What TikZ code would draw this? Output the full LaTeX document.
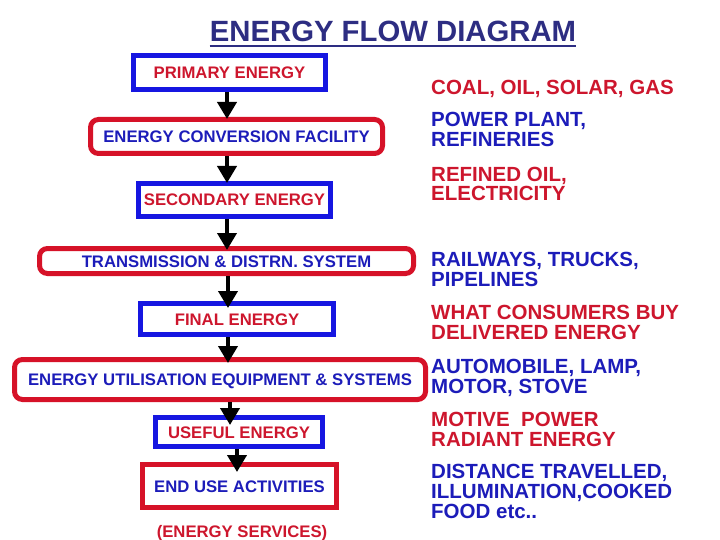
\documentclass[tikz,border=0pt]{standalone}
\usepackage{fontspec}
\setmainfont{Liberation Sans}
\usetikzlibrary{arrows.meta}
\definecolor{bred}{RGB}{214,18,40}
\definecolor{bblue}{RGB}{22,22,225}
\definecolor{tred}{RGB}{205,22,45}
\definecolor{tblue}{RGB}{28,28,185}
\definecolor{navy}{RGB}{45,45,130}
\tikzset{
  bx/.style={draw, line width=5pt, inner sep=0pt, text height=12pt, text depth=0pt,
    font=\fontsize{16.7}{18}\selectfont\bfseries},
  bluebox/.style={bx, draw=bblue, text=tred},
  redbox/.style={bx, draw=bred, text=tblue, rounded corners=8pt},
  redsq/.style={bx, draw=bred, text=tblue},
  side/.style={anchor=base west, inner sep=0pt, align=left,
    font=\fontsize{20.5}{20}\selectfont\bfseries},
  arr/.style={line width=4pt, -{Triangle[width=19pt,length=17pt]}}
}
\begin{document}
\begin{tikzpicture}[x=1pt,y=-1pt]
\useasboundingbox (0,0) rectangle (720,540);
% title
\node[anchor=base, inner sep=0pt, text=navy, font=\fontsize{29.3}{30}\selectfont\bfseries] (title) at (393,42) {ENERGY FLOW DIAGRAM};
\draw[navy, line width=2.5pt] ([yshift=-4pt]title.base west) -- ([yshift=-4pt]title.base east);
% boxes
\node[bluebox, minimum width=192pt, minimum height=34pt] (b1) at (229.5,72.5) {PRIMARY ENERGY};
\node[redbox, minimum width=292pt, minimum height=34pt] (b2) at (236.5,136.5) {ENERGY CONVERSION FACILITY};
\node[bluebox, minimum width=192pt, minimum height=33pt] (b3) at (234.5,200) {SECONDARY ENERGY};
\node[redbox, minimum width=374pt, minimum height=25pt] (b4) at (226.5,261) {TRANSMISSION \& DISTRN. SYSTEM};
\node[bluebox, minimum width=193pt, minimum height=31pt] (b5) at (237,319) {FINAL ENERGY};
\node[redbox, minimum width=411pt, minimum height=40pt] (b6) at (220,379.5) {ENERGY UTILISATION EQUIPMENT \& SYSTEMS};
\node[bluebox, minimum width=167pt, minimum height=29pt] (b7) at (239,432) {USEFUL ENERGY};
\node[redsq, minimum width=194pt, minimum height=43pt] (b8) at (239.5,486) {END USE ACTIVITIES};
\node[anchor=base, inner sep=0pt, text=tred, font=\fontsize{16.7}{18}\selectfont\bfseries] (es) at (242,537) {(ENERGY SERVICES)};
% arrows
\coordinate (t1) at (227,119);
\coordinate (t2) at (227,183);
\coordinate (t3) at (227,250);
\coordinate (t4) at (228,308);
\coordinate (t5) at (228,363);
\coordinate (t6) at (230,425);
\coordinate (t7) at (237,472);
\draw[arr] (b1.south -| t1) -- (t1);
\draw[arr] (b2.south -| t2) -- (t2);
\draw[arr] (b3.south -| t3) -- (t3);
\draw[arr] (b4.south -| t4) -- (t4);
\draw[arr] (b5.south -| t5) -- (t5);
\draw[arr] (b6.south -| t6) -- (t6);
\draw[arr] (b7.south -| t7) -- (t7);
% side texts (base = baseline of last line)
\node[side, text=tred] (s1) at (431,95) {COAL, OIL, SOLAR, GAS};
\node[side, text=tblue] (s2) at (431,147) {POWER PLANT,\\REFINERIES};
\node[side, text=tred] (s3) at (431,201) {REFINED OIL,\\ELECTRICITY};
\node[side, text=tblue] (s4) at (431,286.5) {RAILWAYS, TRUCKS,\\PIPELINES};
\node[side, text=tred] (s5) at (431,339.5) {WHAT CONSUMERS BUY\\DELIVERED ENERGY};
\node[side, text=tblue] (s6) at (431,393) {AUTOMOBILE, LAMP,\\MOTOR, STOVE};
\node[side, text=tred] (s7) at (431,446) {MOTIVE\ \ POWER\\RADIANT ENERGY};
\node[side, text=tblue] (s8) at (431,518) {DISTANCE TRAVELLED,\\ILLUMINATION,COOKED\\FOOD etc..};
\end{tikzpicture}
\end{document}
